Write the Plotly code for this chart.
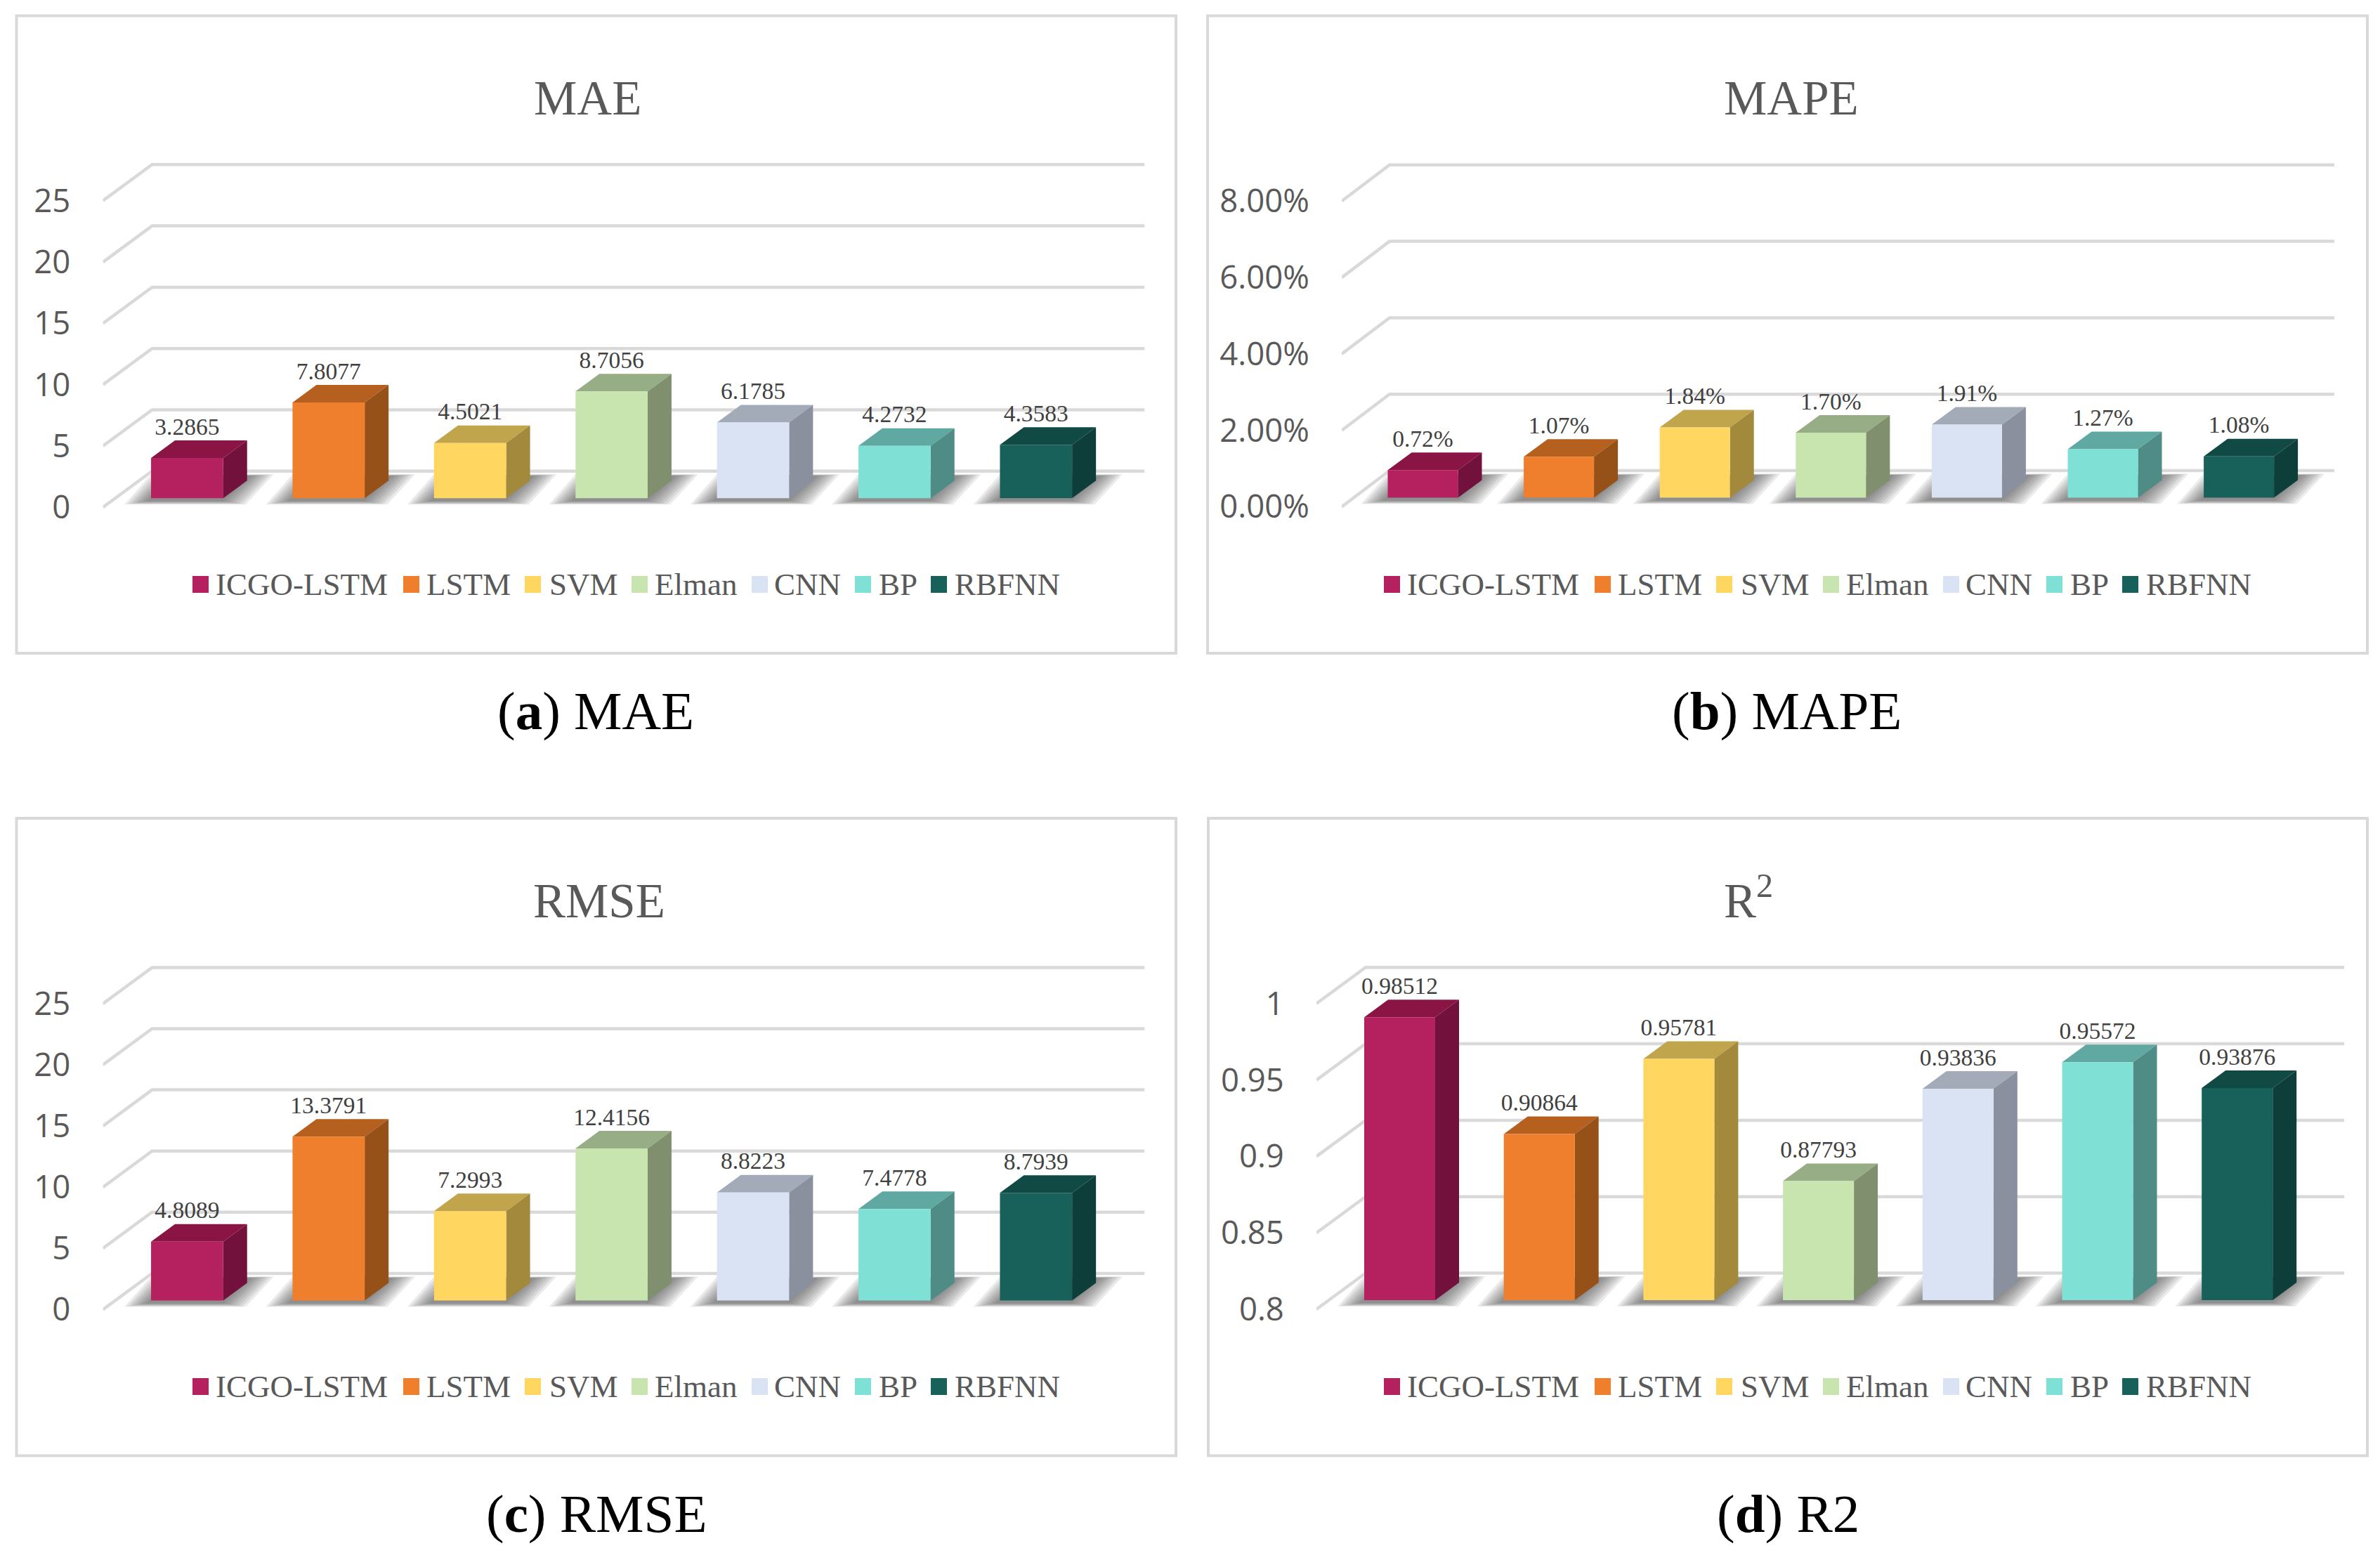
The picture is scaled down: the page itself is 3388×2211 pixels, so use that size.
import plotly.graph_objects as go

W = 3388
H = 2211

METHODS = ["ICGO-LSTM", "LSTM", "SVM", "Elman", "CNN", "BP", "RBFNN"]
MAE = [3.2865, 7.8077, 4.5021, 8.7056, 6.1785, 4.2732, 4.3583]
MAPE = [0.72, 1.07, 1.84, 1.70, 1.91, 1.27, 1.08]
RMSE = [4.8089, 13.3791, 7.2993, 12.4156, 8.8223, 7.4778, 8.7939]
R2 = [0.98512, 0.90864, 0.95781, 0.87793, 0.93836, 0.95572, 0.93876]

MAE_TICKS = [0, 5, 10, 15, 20, 25]
MAPE_TICKS = [0, 2, 4, 6, 8]
RMSE_TICKS = [0, 5, 10, 15, 20, 25]
R2_TICKS = [0.8, 0.85, 0.9, 0.95, 1.0]
R2_TICK_TEXT = ["0.8", "0.85", "0.9", "0.95", "1"]

FRONT = ["#b5205e", "#ef7f2d", "#fed660", "#c8e5b0", "#dae3f4", "#7fe0d6", "#18615b"]
TOP = ["#8a1545", "#b5601f", "#c0a54d", "#97ad86", "#a3abb9", "#5fa9a2", "#114a45"]
SIDE = ["#72113c", "#965119", "#a2893c", "#80906e", "#8a909d", "#4f8c86", "#0e3e3a"]

SERIF = "Liberation Serif"
GRID = "#d9d9d9"
TEXT = "#595959"

# offsets of the fake 3D box, in pixels
DEPTH_X = 34
DEPTH_Y = 25
WALL_Y = 38.5
FLOOR_Y = 13
SHADOW_LAYERS = 8

# swatch and text starts of the legend, relative to the first swatch
SWATCH_X = [0, 300, 473, 625, 796, 943, 1051]
LABEL_X = [31, 331, 506, 656, 826, 975, 1083]

panels = [
    dict(name="MAE", vals=MAE, ticks=MAE_TICKS, ticktext=[str(t) for t in MAE_TICKS],
         labels=[str(v) for v in MAE], vmin=0, unit=87.3 / 5, base=709.3,
         c0=266.4, step=201.4, bw=102.7, left=146.5, back=216.5, right=1629.5,
         box=[23.5, 22.5, 1674, 930], title_x=836, title_y=163, legend_x=274, legend_y=832,
         caption="(<b>a</b>) MAE", cap_x=848, cap_y=1039),
    dict(name="MAPE", vals=MAPE, ticks=MAPE_TICKS, ticktext=[f"{t}.00%" for t in MAPE_TICKS],
         labels=[f"{v:.2f}%" for v in MAPE], vmin=0, unit=54.4, base=708.5,
         c0=2025.5, step=193.6, bw=100, left=1910, back=1978, right=3323,
         box=[1719, 22.5, 3370, 930], title_x=2550, title_y=163, legend_x=1970, legend_y=832,
         caption="(<b>b</b>) MAPE", cap_x=2543, cap_y=1039),
    dict(name="RMSE", vals=RMSE, ticks=RMSE_TICKS, ticktext=[str(t) for t in RMSE_TICKS],
         labels=[str(v) for v in RMSE], vmin=0, unit=87.1 / 5, base=1851.4,
         c0=266.4, step=201.4, bw=102.7, left=146.5, back=216.5, right=1629.5,
         box=[23.5, 1165, 1674, 2072.5], title_x=853, title_y=1305.5, legend_x=274, legend_y=1974,
         caption="(<b>c</b>) RMSE", cap_x=849, cap_y=2181.5),
    dict(name="R<sup>2</sup>", vals=R2, ticks=R2_TICKS, ticktext=R2_TICK_TEXT,
         labels=[str(v) for v in R2], vmin=0.8, unit=108.8 / 0.05, base=1851,
         c0=1992.5, step=198.7, bw=101, left=1874, back=1944, right=3337,
         box=[1720, 1165, 3370, 2072.5], title_x=2489, title_y=1305.5, legend_x=1970, legend_y=1974,
         caption="(<b>d</b>) R2", cap_x=2545, cap_y=2181.5),
]

fig = go.Figure()
shapes = []
annotations = []


def page_x(px):
    return px / W


def page_y(py):
    return 1 - py / H


def add_panel(idx, p):
    suffix = "" if idx == 0 else str(idx + 1)
    xa, ya = "x" + suffix, "y" + suffix
    ux, uy = p["step"], p["unit"]
    vmin = p["vmin"]
    n = len(p["vals"])
    half = p["bw"] / 2 / ux
    dx, dy = DEPTH_X / ux, DEPTH_Y / uy

    # gridlines: floor edge, up the side wall, along the back wall
    left = (p["left"] - p["c0"]) / ux
    back = (p["back"] - p["c0"]) / ux
    right = (p["right"] - p["c0"]) / ux
    grid_x, grid_y = [], []
    for t in p["ticks"]:
        grid_x += [left, back, right, None]
        grid_y += [t - FLOOR_Y / uy, t + WALL_Y / uy, t + WALL_Y / uy, None]
    fig.add_trace(go.Scatter(x=grid_x, y=grid_y, mode="lines", line=dict(color=GRID, width=4.5),
                             xaxis=xa, yaxis=ya, hoverinfo="skip", zorder=0))

    # soft floor shadows, stacked from wide and faint to narrow
    for k in range(SHADOW_LAYERS):
        inset = k * 4.5 / ux
        low = vmin - (9 - k * 0.7) / uy
        high = vmin + (34 - k * 0.3) / uy
        shadow_x, shadow_y = [], []
        for i in range(n):
            shadow_x += [i - half - 38 / ux + inset, i - half + inset, i + half + 72 / ux - inset,
                         i + half + 32 / ux - inset, None]
            shadow_y += [low, high, high, low, None]
        fig.add_trace(go.Scatter(x=shadow_x, y=shadow_y, mode="lines", line=dict(width=0),
                                 fill="toself", fillcolor="rgba(70,70,70,0.11)",
                                 xaxis=xa, yaxis=ya, hoverinfo="skip", zorder=1))

    # top and side faces
    for i, v in enumerate(p["vals"]):
        fig.add_trace(go.Scatter(x=[i - half, i - half + dx, i + half + dx, i + half, i - half],
                                 y=[v, v + dy, v + dy, v, v],
                                 mode="lines", line=dict(width=0), fill="toself", fillcolor=TOP[i],
                                 xaxis=xa, yaxis=ya, hoverinfo="skip", zorder=2))
        fig.add_trace(go.Scatter(x=[i + half, i + half + dx, i + half + dx, i + half, i + half],
                                 y=[v, v + dy, vmin + dy, vmin, v],
                                 mode="lines", line=dict(width=0), fill="toself", fillcolor=SIDE[i],
                                 xaxis=xa, yaxis=ya, hoverinfo="skip", zorder=2))

    # front faces
    fig.add_trace(go.Bar(x=list(range(n)), y=[v - vmin for v in p["vals"]], base=vmin,
                         width=p["bw"] / ux, marker=dict(color=FRONT, line=dict(width=0)),
                         xaxis=xa, yaxis=ya, customdata=METHODS,
                         hovertemplate="%{customdata}<extra></extra>", zorder=3))

    # value labels sit over the back edge of the box
    fig.add_trace(go.Scatter(x=list(range(n)), y=[v + dy for v in p["vals"]], mode="text",
                             text=p["labels"], textposition="top center",
                             textfont=dict(family=SERIF, size=33.5, color="#404040"),
                             xaxis=xa, yaxis=ya, hoverinfo="skip", zorder=4))

    y_bottom = p["base"] + 30
    y_top = p["box"][1] + 10
    xkey = "xaxis" + suffix
    ykey = "yaxis" + suffix
    fig.update_layout({
        xkey: dict(domain=[page_x(p["left"]), page_x(p["right"])], range=[left, right],
                   anchor=ya, visible=False, fixedrange=True, automargin=False),
        ykey: dict(domain=[page_y(y_bottom), page_y(y_top)],
                   range=[vmin - (y_bottom - p["base"]) / uy, vmin + (p["base"] - y_top) / uy],
                   anchor=xa, showgrid=False, zeroline=False, showline=False, fixedrange=True,
                   automargin=False, tickmode="array", tickvals=[t - FLOOR_Y / uy for t in p["ticks"]],
                   ticktext=p["ticktext"], ticks="outside", ticklen=36, tickcolor="rgba(0,0,0,0)",
                   tickfont=dict(family="Open Sans", size=45.5, color=TEXT)),
    })

    x0, y0, x1, y1 = p["box"]
    shapes.append(dict(type="rect", xref="paper", yref="paper", x0=page_x(x0), y0=page_y(y0),
                       x1=page_x(x1), y1=page_y(y1), line=dict(color=GRID, width=4),
                       fillcolor="rgba(0,0,0,0)", layer="below"))

    annotations.append(dict(xref="paper", yref="paper", x=page_x(p["title_x"]), y=page_y(p["title_y"] + 17),
                            text=p["name"], showarrow=False, xanchor="center", yanchor="bottom",
                            font=dict(family=SERIF, size=69, color=TEXT)))
    annotations.append(dict(xref="paper", yref="paper", x=page_x(p["cap_x"]), y=page_y(p["cap_y"] + 18),
                            text=p["caption"], showarrow=False, xanchor="center", yanchor="bottom",
                            font=dict(family=SERIF, size=77, color="#000000")))

    # legend drawn by hand, the built-in one keeps its swatches at 12 px
    for i, m in enumerate(METHODS):
        sx = p["legend_x"] + SWATCH_X[i]
        shapes.append(dict(type="rect", xref="paper", yref="paper", x0=page_x(sx),
                           y0=page_y(p["legend_y"] - 12), x1=page_x(sx + 23),
                           y1=page_y(p["legend_y"] + 12), fillcolor=FRONT[i], line=dict(width=0)))
        annotations.append(dict(xref="paper", yref="paper", x=page_x(p["legend_x"] + LABEL_X[i]),
                                y=page_y(p["legend_y"]), text=m, showarrow=False,
                                xanchor="left", yanchor="middle",
                                font=dict(family=SERIF, size=45, color=TEXT)))


for idx, p in enumerate(panels):
    add_panel(idx, p)

fig.update_layout(width=W, height=H, autosize=False, margin=dict(l=0, r=0, t=0, b=0, pad=0),
                  paper_bgcolor="white", plot_bgcolor="rgba(0,0,0,0)", showlegend=False,
                  barmode="overlay", shapes=shapes, annotations=annotations)

fig.write_html("out.html", config=dict(displayModeBar=False),
               post_script="document.body.style.margin='0';")
